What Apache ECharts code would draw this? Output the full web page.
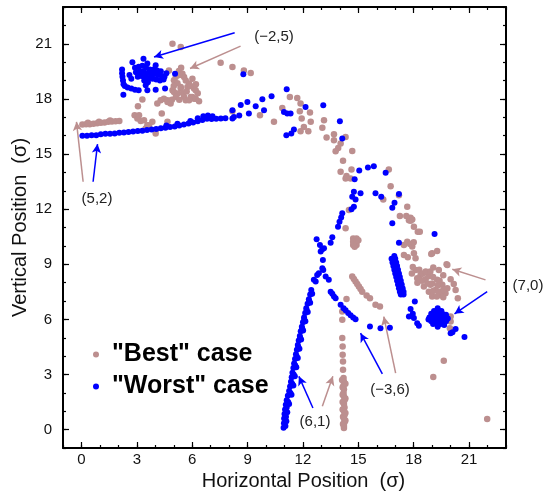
<!DOCTYPE html>
<html>
<head>
<meta charset="utf-8">
<script src="https://cdn.jsdelivr.net/npm/echarts@6/dist/echarts.min.js"></script>
<style>
  html, body { margin: 0; padding: 0; background: #fff; }
  #chart { width: 544px; height: 495px; }
</style>
</head>
<body>
<div id="chart"></div>
<script>
// tick labels
const xTicks = [0, 3, 6, 9, 12, 15, 18, 21];
const yTicks = [0, 3, 6, 9, 12, 15, 18, 21];
const allTicks = [-1, 0, 1, 2, 3, 4, 5, 6, 7, 8, 9, 10, 11, 12, 13, 14, 15, 16, 17, 18, 19, 20, 21, 22, 23];

const seriesNames = ['"Best" case', '"Worst" case'];

// "Best" case points, grouped by region
const bestLeftLine = [[0.05,16.6],[0.25,16.62],[0.45,16.62],[0.65,16.65],[0.85,16.68],[1.05,16.7],[1.25,16.72],
  [1.45,16.75],[1.65,16.77],[1.85,16.78],[2.05,16.8],[0.35,16.7],[0.95,16.76],[1.55,16.82]];
const bestTopCluster = [[4.93,21.0],[5.38,20.82],[7.54,19.97],[8.18,19.73],[8.8,19.55],[9.17,19.41],
  [4.74,19.55],[5.28,19.52],[5.47,19.37],[5.56,19.19],[5.11,19.19],[6.01,19.1],[5.01,19.01],[5.83,18.83],
  [5.38,18.65],[5.74,18.65],[6.1,18.56],[5.38,18.56],[4.93,18.47],[6.19,18.47],[5.01,18.38],[5.2,18.29],
  [5.56,18.1],[5.11,18.1],[5.92,18.1],[6.01,18.1],[6.19,18.01],[6.1,18.01],[4.47,18.01],[4.29,17.92],
  [4.66,17.92],[5.65,17.92],[5.83,17.92],[6.37,17.87],[4.66,17.83],[4.83,17.75],[4.11,17.75],[5.3,17.95],
  [5.5,18.3],[5.7,18.4],[5.9,18.7],[5.2,18.85],[5.65,19.0],[5.3,19.3],[6.2,18.8],[4.9,17.95],[5.4,19.7],
  [6.3,18.3],[5.0,18.7],
  [3.3,17.96],[3.06,17.6],[2.88,17.11],[3.03,16.93],[3.12,17.11],[3.21,16.8],[3.39,16.84],[3.57,16.57],
  [3.66,16.57],[3.84,16.75],[4.02,16.11],[4.02,16.3],[3.48,16.39],[4.35,17.2],[4.66,16.75]];
const bestArc = [[8.18,17.33],[9.67,17.11],[10.43,16.75],[10.88,17.51],[11.29,18.1],[11.69,18.05],
  [11.87,17.75],[11.83,17.33],[12.38,17.26],[11.93,16.93],[12.42,16.75],[11.87,16.24],[12.29,16.24],
  [12.05,16.47],[13.14,16.84],[13.05,16.43],[13.28,15.9],[13.68,16.08],[13.68,15.75],[14.31,15.93],
  [14.04,15.57],[13.91,15.33],[13.77,15.15],[14.67,15.17],[14.17,14.63],[14.04,14.03],[14.63,14.16],
  [14.31,13.67],[14.36,13.8],[14.58,13.67],[16.65,14.16],[16.75,13.25],[17.2,12.76],[16.35,12.53],
  [14.49,11.95],[14.31,10.96],[17.25,11.62],
  [14.72,10.4],[14.9,10.4],[14.72,10.22],[14.9,10.22],[14.72,10.05],[14.9,10.05],[14.8,9.95],[15.0,10.3]];
const bestDiagonal = [[14.67,8.33],[14.76,8.2],[14.85,8.06],[14.94,7.92],[15.03,7.79],[15.12,7.65],
  [15.21,7.51],[15.45,7.3],[15.63,7.15],[15.93,6.79],[16.17,6.7],[14.36,7.11],[14.13,6.43]];
const bestColumn = [[14.13,5.98],[14.13,4.98],[14.15,4.53],[14.15,4.07],[14.17,3.71],[14.17,3.26],
  [14.2,2.81],[14.22,2.6],[14.2,2.4],[14.22,2.2],[14.2,2.0],[14.22,1.8],[14.25,1.6],[14.22,1.4],
  [14.25,1.2],[14.22,1.0],[14.25,0.8],[14.22,0.6],[14.25,0.4],[14.22,0.2],[14.22,0.09],[14.12,2.7],
  [14.15,2.3],[14.15,1.9],[14.15,1.5],[14.15,1.1],[14.17,0.7],[14.17,0.3],[14.3,2.5],[14.3,1.7],
  [14.3,0.9],[14.3,0.5]];
const bestRight = [[17.6,11.62],[17.83,11.53],[17.74,11.4],[17.83,11.37],[18.01,11.04],[18.22,10.77],
  [18.33,10.77],[17.65,12.13],[17.92,11.44],[17.47,10.05],[17.65,10.23],[17.92,9.96],[18.01,9.6],
  [17.47,9.51],[17.68,9.38],[18.1,9.33],[19.0,9.6],[19.27,9.72],[18.95,9.56],[19.82,8.96],[17.8,10.1],
  [18.0,10.2],
  [19.06,8.82],[19.36,8.69],[19.78,9.0],[20.0,8.19],[20.17,7.93],[20.27,7.6],[20.39,7.15],[18.1,8.69],
  [18.37,8.42],[18.64,8.19],[18.91,7.88],[19.18,7.6],[19.45,7.33],[19.72,7.42],[18.55,7.79],[18.82,7.51],
  [19.0,7.24],[18.19,8.24],[19.27,8.15],[19.55,7.88],[19.82,7.7],[17.95,8.85],[18.3,8.7],[18.5,8.5],
  [18.8,8.35],[19.05,8.3],[18.45,8.1],[18.75,7.95],[19.0,7.95],[19.3,7.85],[19.05,7.55],[19.35,7.5],
  [19.6,7.6],[19.25,7.25],[19.6,7.2],[18.65,8.6],[18.9,8.6],[19.6,8.4],[19.4,8.1],[18.2,8.0],[17.9,8.5],
  [20.0,5.88],[19.96,5.52],[20.0,6.15],[19.06,2.86],[19.63,3.75],[21.98,0.58]];

// "Worst" case points
const worstLeftLine = [[0.05,16.0],[0.3,16.0],[0.55,16.02],[0.8,16.02],[1.05,16.08],[1.3,16.1],[1.55,16.1],
  [1.8,16.12],[2.05,16.15],[2.3,16.17],[2.55,16.2],[2.8,16.22],[3.05,16.25],[3.3,16.27],[3.55,16.3],
  [3.8,16.33],[4.05,16.36],[4.3,16.4],[4.55,16.43],[4.8,16.47],[5.05,16.5],[5.3,16.55],[5.55,16.6],
  [5.8,16.66],[6.05,16.72],[6.3,16.78],[6.55,16.85],[6.8,16.92],[7.05,16.9],[7.3,16.92],[7.55,16.93],
  [7.8,16.95],[5.9,16.8],[6.3,16.95],[6.6,17.05],[6.85,17.1],[7.1,17.05],[4.6,16.55],[5.2,16.65]];
const worstTopCluster = [[2.2,19.6],[2.2,19.4],[2.22,19.2],[2.25,19.0],[2.28,18.8],[2.35,18.7],[2.5,18.62],
  [2.7,18.56],[2.9,18.5],[3.1,18.47],
  [2.76,20.0],[3.36,20.19],[3.57,19.92],[4.02,19.83],[2.9,19.7],[3.1,19.75],[3.3,19.8],[3.5,19.7],
  [3.7,19.6],[3.9,19.6],[4.1,19.55],[4.3,19.5],[2.95,19.45],[3.15,19.5],[3.35,19.5],[3.55,19.4],
  [3.75,19.35],[3.95,19.35],[4.15,19.3],[4.35,19.25],[4.5,19.2],[3.05,19.2],[3.25,19.25],[3.45,19.2],
  [3.65,19.1],[3.85,19.1],[4.05,19.05],[4.25,19.0],[4.45,19.05],[3.4,19.0],[3.6,18.9],[4.6,19.4],
  [2.6,19.3],[2.7,19.1],
  [2.27,18.23],[3.57,18.47],[3.48,18.74],[4.02,18.5],[4.53,18.56],[5.07,19.37],[8.77,19.34]];
const worstArc = [[8.18,16.93],[8.26,17.02],[8.18,17.38],[8.63,17.66],[8.99,17.83],[9.44,17.6],[9.8,17.98],
  [10.3,18.14],[9.89,17.38],[9.07,17.2],[8.55,17.1],[11.12,18.52],[10.97,17.29],[11.15,17.2],[11.33,17.2],
  [12.14,17.56],[13.1,17.65],[11.51,16.33],[11.37,16.12],[11.1,16.02],[14.0,16.78],[14.13,15.85],
  [15.05,14.1],[15.52,14.27],[15.84,14.34],[14.8,13.62],[16.48,13.98],[14.76,12.94],[14.67,12.68],
  [14.85,12.53],[15.12,12.86],[14.76,12.13],[14.63,12.0],[15.93,12.86],[16.24,12.67],[16.96,12.35],
  [16.84,12.08],[17.2,12.82],[16.84,11.23],[14.13,11.77],[14.07,11.55],[13.98,11.31],[13.9,11.04],
  [12.74,10.36],[13.59,10.47],[12.92,10.05],[13.05,9.82],[13.5,10.17],[13.14,9.87],[12.96,9.69],
  [19.13,10.65],[17.2,10.17],[13.08,9.23],[13.05,8.78],[13.1,8.69],[12.86,8.51],[12.69,8.06],
  [12.77,8.42],[12.59,8.15]];
const worstDiagonal = [[13.23,8.33],[13.4,8.15],[13.5,7.51],[13.59,7.4],[13.68,7.24],[13.77,7.15],
  [14.04,6.79],[14.2,6.6],[14.31,6.5],[14.45,6.35],[14.58,6.22],[14.72,6.1],[14.85,6.01],[15.63,5.61],
  [16.2,5.52],[16.71,5.54]];
const worstSteepLine = [[10.95,0.1],[10.97,0.35],[10.98,0.6],[11.0,0.85],[11.03,1.1],[11.07,1.35],
  [11.12,1.6],[11.18,1.85],[11.25,2.1],[11.3,2.35],[11.35,2.6],[11.39,2.85],[11.43,3.1],[11.48,3.35],
  [11.52,3.6],[11.57,3.85],[11.62,4.1],[11.67,4.35],[11.72,4.6],[11.77,4.85],[11.83,5.1],[11.88,5.35],
  [11.94,5.6],[12.0,5.85],[12.06,6.1],[12.12,6.35],[12.18,6.6],[12.25,6.85],[12.32,7.1],[12.39,7.35],
  [12.45,7.6],[11.05,0.2],[11.08,0.7],[11.12,1.2],[11.2,1.5],[11.32,2.0],[11.42,2.5],[11.5,3.0],
  [11.58,3.5],[11.66,4.0],[11.75,4.5],[11.85,5.0],[11.96,5.5],[12.07,6.0],[12.2,6.5],[12.33,7.0],
  [11.1,0.45],[11.15,0.95],[11.25,1.4],[11.38,1.9],[11.48,2.4],[11.56,2.9],[11.64,3.4],[11.72,3.9],
  [11.81,4.4],[11.9,4.9],[12.01,5.4],[12.13,5.9],[12.26,6.4],[12.39,6.9],[12.5,7.4]];
const worstRight = [[16.8,9.3],[17.0,9.3],[16.85,9.1],[17.05,9.1],[16.9,8.9],[17.1,8.9],[16.95,8.7],
  [17.15,8.7],[17.0,8.5],[17.2,8.5],[17.05,8.3],[17.25,8.3],[17.1,8.1],[17.3,8.1],[17.15,7.9],[17.35,7.9],
  [17.2,7.7],[17.4,7.7],[17.25,7.5],[17.45,7.5],[17.3,7.35],[17.45,7.35],[16.95,9.45],
  [19.3,6.6],[19.1,6.45],[19.3,6.45],[19.5,6.45],[18.95,6.3],[19.15,6.3],[19.35,6.3],[19.55,6.3],
  [19.75,6.25],[18.85,6.1],[19.05,6.1],[19.25,6.1],[19.45,6.1],[19.65,6.1],[19.85,6.05],[18.95,5.9],
  [19.15,5.9],[19.35,5.9],[19.55,5.9],[19.75,5.9],[19.05,5.75],[19.25,5.75],[19.45,5.75],[19.65,5.7],
  [19.3,5.6],[18.8,6.0],
  [18.06,6.97],[17.83,6.56],[17.74,6.15],[18.01,6.07],[18.19,5.79],[18.28,5.65],[17.95,6.3],
  [20.0,5.25],[20.27,5.47],[20.75,5.04],[20.1,5.3]];

const bestCase = [].concat(bestLeftLine, bestTopCluster, bestArc, bestDiagonal, bestColumn, bestRight);
const worstCase = [].concat(worstLeftLine, worstTopCluster, worstArc, worstDiagonal, worstSteepLine, worstRight);

const BROWN = '#bc8f8f';
const BLUE = '#0000ff';
const FONT = 'Liberation Sans, Arial, sans-serif';

// arrows: [from, to] in data coordinates
const brownArrows = [
  [[8.62, 20.87], [5.88, 19.65]],
  [[0.09, 13.49], [-0.27, 16.75]],
  [[21.89, 8.15], [20.09, 8.73]],
  [[17.02, 3.08], [16.38, 6.15]],
  [[13.05, 1.27], [13.62, 2.9]]
];
const blueArrows = [
  [[8.3, 21.6], [3.93, 20.28]],
  [[0.63, 13.49], [0.87, 15.54]],
  [[21.98, 7.51], [20.21, 6.3]],
  [[16.3, 3.03], [15.12, 5.25]],
  [[12.54, 1.18], [11.78, 2.9]]
];

function arrowLines(list, color) {
  return {
    silent: true,
    symbol: ['none', 'arrow'],
    symbolSize: [7, 9],
    label: { show: false },
    lineStyle: { color: color, width: 1.5, type: 'solid' },
    data: list.map(a => [{ coord: a[0] }, { coord: a[1] }])
  };
}

function axisPair(dim, pos, major, withLabels) {
  const base = {
    type: 'value', min: -1, max: 23, position: pos,
    splitLine: { show: false },
    axisLine: { show: major, onZero: false, lineStyle: { color: '#000', width: 2 } },
    axisTick: {
      inside: true,
      customValues: major ? (dim === 'x' ? xTicks : yTicks) : allTicks,
      length: major ? 6 : 3,
      lineStyle: { color: '#000', width: 1.2 }
    },
    axisLabel: { show: false }
  };
  if (withLabels) {
    base.axisLabel = {
      show: true, customValues: dim === 'x' ? xTicks : yTicks,
      fontFamily: FONT, fontSize: 15, color: '#111',
      margin: dim === 'x' ? 4 : 11
    };
    base.name = dim === 'x' ? 'Horizontal Position  (σ)' : 'Vertical Position  (σ)';
    base.nameLocation = 'middle';
    base.nameMoveOverlap = false;
    base.nameGap = dim === 'x' ? 23 : 33;
    base.nameTextStyle = dim === 'x'
      ? { fontFamily: FONT, fontSize: 20, color: '#111', padding: [0, 0, 0, 38] }
      : { fontFamily: FONT, fontSize: 20, color: '#111' };
  }
  return base;
}

const chart = echarts.init(document.getElementById('chart'));
chart.setOption({
  animation: false,
  backgroundColor: '#fff',
  grid: { left: 63, right: 38, top: 7, bottom: 47, outerBoundsMode: 'none', containLabel: false },
  xAxis: [
    axisPair('x', 'bottom', true, true),
    axisPair('x', 'bottom', false, false),
    axisPair('x', 'top', true, false),
    axisPair('x', 'top', false, false)
  ],
  yAxis: [
    axisPair('y', 'left', true, true),
    axisPair('y', 'left', false, false),
    axisPair('y', 'right', true, false),
    axisPair('y', 'right', false, false)
  ],
  legend: {
    orient: 'vertical',
    left: 88, top: 337,
    itemGap: 7,
    itemWidth: 6, itemHeight: 6,
    icon: 'circle',
    data: seriesNames,
    textStyle: { fontFamily: FONT, fontSize: 25, fontWeight: 'bold', color: '#000', padding: [0, 0, 0, 8] }
  },
  series: [
    {
      name: seriesNames[0], type: 'scatter', data: bestCase,
      symbolSize: 6.5, itemStyle: { color: BROWN, opacity: 1 },
      markLine: arrowLines(brownArrows, BROWN)
    },
    {
      name: seriesNames[1], type: 'scatter', data: worstCase,
      symbolSize: 6, itemStyle: { color: BLUE, opacity: 1 },
      markLine: arrowLines(blueArrows, BLUE)
    }
  ],
  graphic: [
    ['(−2,5)', 274, 37], ['(5,2)', 97, 199], ['(7,0)', 528, 286],
    ['(−3,6)', 390, 390], ['(6,1)', 315, 422]
  ].map(t => ({
    type: 'text', x: t[1], y: t[2], silent: true,
    style: { text: t[0], fontFamily: FONT, fontSize: 15, fill: '#222', align: 'center', verticalAlign: 'middle' }
  }))
});
</script>
</body>
</html>
